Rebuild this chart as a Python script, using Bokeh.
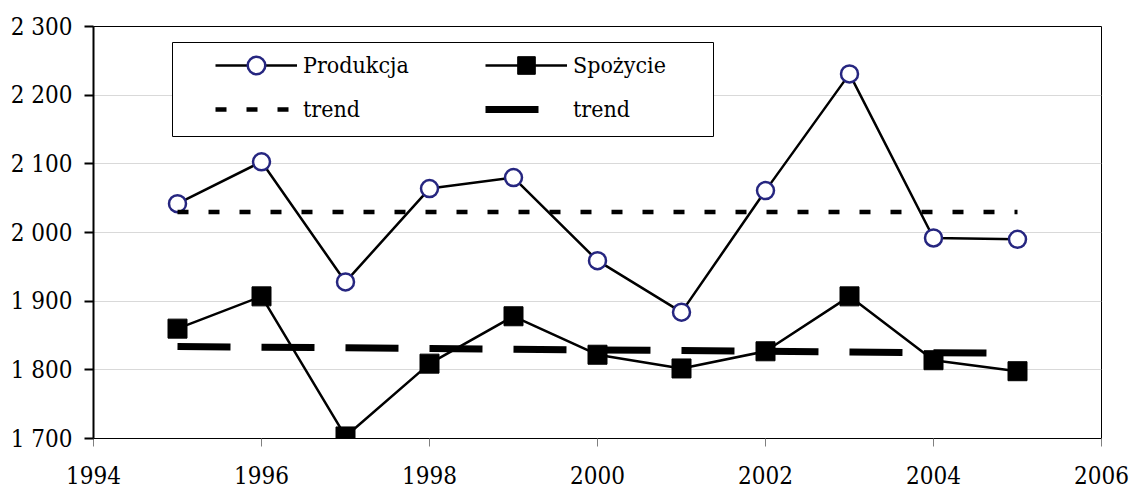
from bokeh.plotting import figure
from bokeh.models import Range1d, FixedTicker, Legend, LegendItem, BoxAnnotation
from bokeh.embed import file_html
from bokeh.resources import INLINE

# ---- data ----
years = [1995, 1996, 1997, 1998, 1999, 2000, 2001, 2002, 2003, 2004, 2005]
produkcja = [2042, 2103, 1928, 2064, 2080, 1959, 1884, 2061, 2231, 1992, 1990]
spozycie = [1860, 1907, 1703, 1809, 1878, 1822, 1802, 1827, 1907, 1814, 1798]
trend_years = [1995, 2005]
trend_produkcja = [2030, 2030]
trend_spozycie = [1834, 1824]

x_ticks = [1994, 1996, 1998, 2000, 2002, 2004, 2006]
x_tick_labels = ["1994", "1996", "1998", "2000", "2002", "2004", "2006"]
y_ticks = [1700, 1800, 1900, 2000, 2100, 2200, 2300]
y_tick_labels = ["1 700", "1 800", "1 900", "2 000", "2 100", "2 200", "2 300"]

label_produkcja = "Produkcja"
label_spozycie = "Spożycie"
label_trend = "trend"

FONT = "'DejaVu Serif Condensed', 'DejaVu Serif'"
NAVY = "#262680"

p = figure(width=1130, height=489, output_backend="svg", toolbar_location=None,
           x_range=Range1d(1994, 2006), y_range=Range1d(1700, 2300),
           min_border_left=93, min_border_right=29, min_border_top=26,
           min_border_bottom=51)

p.outline_line_color = "black"
p.outline_line_width = 1
p.xgrid.visible = False
p.ygrid.grid_line_color = "#d9d9d9"
p.ygrid.grid_line_width = 1
p.ygrid.ticker = FixedTicker(ticks=y_ticks)

# x axis
p.xaxis.ticker = FixedTicker(ticks=x_ticks)
p.xaxis.major_label_overrides = {t: l for t, l in zip(x_ticks, x_tick_labels)}
p.xaxis.minor_tick_line_color = None
p.xaxis.major_tick_in = 0
p.xaxis.major_tick_out = 8
p.xaxis.major_tick_line_color = "#808080"
p.xaxis.axis_line_color = "black"
p.xaxis.axis_line_width = 1
p.xaxis.major_label_standoff = 19
p.xaxis.major_label_text_font = FONT
p.xaxis.major_label_text_font_size = "24px"
p.xaxis.major_label_text_color = "black"

# y axis
p.yaxis.ticker = FixedTicker(ticks=y_ticks)
p.yaxis.major_label_overrides = {t: l for t, l in zip(y_ticks, y_tick_labels)}
p.yaxis.minor_tick_line_color = None
p.yaxis.major_tick_in = 0
p.yaxis.major_tick_out = 9
p.yaxis.major_tick_line_color = "black"
p.yaxis.major_tick_line_width = 2
p.yaxis.axis_line_color = "black"
p.yaxis.axis_line_width = 2
p.yaxis.major_label_standoff = 12
p.yaxis.major_label_text_font = FONT
p.yaxis.major_label_text_font_size = "24px"
p.yaxis.major_label_text_color = "black"

# series
l_prod = p.line(years, produkcja, line_color="black", line_width=2.5)
s_prod = p.scatter(years, produkcja, marker="circle", size=17, fill_color="white",
                   line_color=NAVY, line_width=2.5)
l_spoz = p.line(years, spozycie, line_color="black", line_width=2.5)
s_spoz = p.scatter(years, spozycie, marker="square", size=19, fill_color="black",
                   line_color="black", line_width=1)

# trends
t_prod = p.line(trend_years, trend_produkcja, line_color="black", line_width=4.5,
                line_dash="11 20")
t_spoz = p.line(trend_years, trend_spozycie, line_color="black", line_width=7,
                line_dash="53 31")

# legend frame
box = BoxAnnotation(left=172, right=713, top=42, bottom=136,
                    left_units="canvas", right_units="canvas",
                    top_units="canvas", bottom_units="canvas",
                    fill_color="white", fill_alpha=1,
                    line_color="black", line_width=1, line_alpha=1)
p.add_layout(box)

common = dict(orientation="vertical", glyph_width=82, glyph_height=44,
              label_height=44, spacing=0, padding=0, margin=0,
              label_standoff=6, border_line_alpha=0, background_fill_alpha=0,
              label_text_font=FONT, label_text_font_size="23px",
              label_text_color="black")

leg1 = Legend(items=[LegendItem(label=label_produkcja, renderers=[l_prod, s_prod]),
                     LegendItem(label=label_trend, renderers=[t_prod])],
              location=(122, 307), **common)
leg2 = Legend(items=[LegendItem(label=label_spozycie, renderers=[l_spoz, s_spoz]),
                     LegendItem(label=label_trend, renderers=[t_spoz])],
              location=(392, 307), **common)
p.add_layout(leg1)
p.add_layout(leg2)

open("out.html", "w").write(file_html(p, INLINE))
